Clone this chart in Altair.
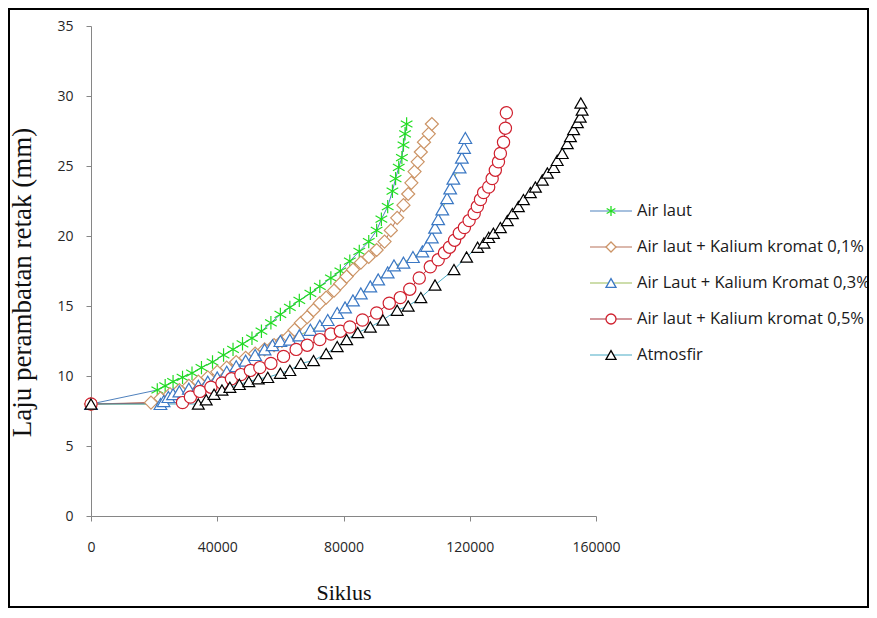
import altair as alt
import pandas as pd

# ---------------- data ----------------
SERIES = [
    "Air laut",
    "Air laut + Kalium kromat 0,1%",
    "Air Laut + Kalium Kromat 0,3%",
    "Air laut + Kalium kromat 0,5%",
    "Atmosfir",
]

air_laut_x = [0, 21000, 23500, 26000, 29000, 32000, 35000, 38500, 42000, 45000,
              48000, 51000, 54000, 57000, 60000, 63000, 66000, 69500, 72500, 76000,
              79000, 82000, 85000, 88000, 90500, 92000, 94000, 95500, 96500, 97500,
              98500, 99000, 99500, 100000]
air_laut_y = [8, 9.0, 9.3, 9.6, 9.9, 10.2, 10.6, 11.0, 11.5, 11.9,
              12.3, 12.7, 13.2, 13.8, 14.4, 14.9, 15.4, 15.9, 16.4, 17.0,
              17.5, 18.2, 18.9, 19.6, 20.4, 21.2, 22.1, 23.2, 24.1, 24.9,
              25.6, 26.5, 27.3, 28.0]

kk01_x = [0, 19000, 22000, 25000, 28000, 31000, 34000, 37000, 40000, 43000,
          46000, 49000, 52000, 55000, 58000, 60500, 62500, 64500, 66500, 68500,
          70500, 72500, 74500, 77000, 79000, 81000, 83000, 85500, 88000, 90500,
          93000, 95000, 97000, 99000, 100500, 101500, 102500, 103500, 104500, 105500,
          107000, 108000]
kk01_y = [8, 8.1, 8.4, 8.7, 9.0, 9.3, 9.6, 9.9, 10.3, 10.6,
          11.0, 11.3, 11.6, 11.9, 12.2, 12.5, 12.8, 13.3, 13.8, 14.2,
          14.7, 15.2, 15.6, 16.1, 16.6, 17.1, 17.6, 18.1, 18.5, 19.0,
          19.6, 20.4, 21.3, 22.2, 23.0, 23.8, 24.6, 25.3, 26.0, 26.7,
          27.3, 28.0]

kk03_x = [0, 22000, 23000, 24500, 26000, 28000, 31000, 34000, 37000, 40000,
          43000, 46000, 49000, 52000, 55000, 57500, 60000, 63000, 66000, 69500,
          72500, 75000, 78000, 80500, 83000, 85500, 88500, 91000, 94000, 96000,
          99000, 102000, 105000, 106500, 108000, 109000, 110000, 111300, 112800, 113800,
          114800, 116800, 117500, 118200, 118600]
kk03_y = [8, 8.0, 8.2, 8.5, 8.7, 8.9, 9.1, 9.3, 9.6, 9.9,
          10.3, 10.7, 11.1, 11.5, 11.9, 12.2, 12.5, 12.6, 12.9, 13.3,
          13.6, 14.0, 14.5, 14.9, 15.4, 15.9, 16.4, 16.9, 17.4, 17.9,
          18.1, 18.5, 18.9, 19.3, 19.9, 20.6, 21.2, 21.9, 22.7, 23.4,
          24.1, 24.9, 25.6, 26.3, 27.0]

kk05_x = [0, 29000, 31500, 34500, 38000, 41500, 44500, 47500, 50500, 53500,
          57000, 61000, 65000, 68500, 72500, 76000, 79000, 82000, 86000, 90500,
          94500, 98000, 101000, 104000, 107500, 110000, 112000, 113600, 115200, 116700,
          118300, 119800, 121400, 122400, 123400, 124400, 126000, 127100, 128100, 129100,
          129700, 130700, 131300, 131600]
kk05_y = [8, 8.1, 8.5, 8.9, 9.2, 9.5, 9.8, 10.1, 10.4, 10.6,
          10.9, 11.4, 11.9, 12.2, 12.6, 13.0, 13.2, 13.5, 14.0, 14.5,
          15.2, 15.6, 16.2, 17.0, 17.8, 18.3, 18.8, 19.2, 19.7, 20.2,
          20.6, 21.1, 21.6, 22.1, 22.6, 23.1, 23.5, 24.1, 24.7, 25.3,
          25.9, 26.7, 27.7, 28.8]

atm_x = [0, 34000, 36500, 39000, 41500, 44000, 47000, 50000, 53000, 56000,
         60000, 63000, 66500, 70500, 74500, 78000, 81000, 84500, 88500, 92500,
         97000, 100500, 104500, 109000, 115000, 119000, 122500, 124500, 126000, 127500,
         129700, 131900, 133500, 135400, 137000, 139200, 140800, 143000, 144600, 146600,
         147700, 149300, 150900, 151900, 152900, 154100, 155000, 155600, 155200]
atm_y = [8, 8.0, 8.3, 8.7, 9.0, 9.2, 9.4, 9.6, 9.8, 9.9,
         10.2, 10.4, 10.9, 11.1, 11.6, 12.1, 12.6, 13.1, 13.5, 14.0,
         14.7, 15.0, 15.6, 16.5, 17.6, 18.5, 19.2, 19.5, 19.9, 20.2,
         20.6, 21.1, 21.6, 22.1, 22.6, 23.1, 23.5, 24.0, 24.5, 24.9,
         25.4, 25.9, 26.6, 27.1, 27.6, 28.1, 28.5, 29.0, 29.5]

X_TICKS = [0, 40000, 80000, 120000, 160000]
Y_TICKS = [0, 5, 10, 15, 20, 25, 30, 35]

# ---------------- styling ----------------
LINE_COLORS = ["#4F81BD", "#B7735A", "#9BBB59", "#A5303A", "#4BACC6"]
MARKER_COLORS = ["#22DD22", "#CC9466", "#3B78C4", "#D0202E", "#000000"]
ASTERISK = "M0,-1L0,1M-0.87,-0.5L0.87,0.5M-0.87,0.5L0.87,-0.5"
SHAPES = [ASTERISK, "diamond", "triangle-up", "circle", "triangle-up"]
SIZES = [180, 140, 170, 220, 200]

rows = []
for name, xs, ys in zip(
    SERIES,
    [air_laut_x, kk01_x, kk03_x, kk05_x, atm_x],
    [air_laut_y, kk01_y, kk03_y, kk05_y, atm_y],
):
    for i, (a, b) in enumerate(zip(xs, ys)):
        rows.append({"x": a, "y": b, "series": name, "marker": name, "idx": i})
df = pd.DataFrame(rows)
legend_df = pd.DataFrame({"series": SERIES, "marker": SERIES})

color_enc = alt.Color("series:N", scale=alt.Scale(domain=SERIES, range=LINE_COLORS), legend=None)
stroke_enc = alt.Stroke("marker:N", scale=alt.Scale(domain=SERIES, range=MARKER_COLORS), legend=None)
shape_enc = alt.Shape("marker:N", scale=alt.Scale(domain=SERIES, range=SHAPES), legend=None)

x_enc = alt.X(
    "x:Q",
    scale=alt.Scale(domain=[0, 160000], nice=False),
    axis=alt.Axis(
        values=X_TICKS, format="d", title="Siklus",
        titleFont="Liberation Serif", titleFontSize=22, titleFontWeight="normal",
        titleColor="#111111", titleY=76, titleBaseline="middle",
        labelFont="Open Sans", labelFontSize=14, labelColor="#262626",
        labelPadding=19, tickSize=5, domainColor="#868686", tickColor="#868686",
        labelFlush=False, grid=False,
    ),
)
y_enc = alt.Y(
    "y:Q",
    scale=alt.Scale(domain=[0, 35], nice=False),
    axis=alt.Axis(
        values=Y_TICKS, title="Laju perambatan retak (mm)",
        titleFont="Liberation Serif", titleFontSize=27, titleFontWeight="normal",
        titleColor="#111111", titleX=-69, titleY=256, titleAngle=270,
        titleBaseline="middle", titleAlign="center",
        labelFont="Open Sans", labelFontSize=14, labelColor="#262626",
        labelPadding=13, tickSize=5, domainColor="#868686", tickColor="#868686",
        grid=False,
    ),
)

lines = alt.Chart(df).mark_line(strokeWidth=1).encode(
    x=x_enc, y=y_enc, color=color_enc, order="idx:Q",
)

points = alt.Chart(df).mark_point(
    filled=False, fill="white", opacity=1, strokeWidth=1.2
).encode(
    x=x_enc,
    y=y_enc,
    stroke=stroke_enc,
    shape=shape_enc,
    size=alt.Size("marker:N", scale=alt.Scale(domain=SERIES, range=SIZES), legend=None),
)

main = alt.layer(lines, points)

# ---------------- legend (drawn from the series list) ----------------
leg_y = alt.Y("series:N", scale=alt.Scale(type="point", domain=SERIES, range=[185, 329], padding=0),
              axis=None)
leg_rules = alt.Chart(legend_df).mark_rule(strokeWidth=1.2).encode(
    x=alt.value(499), x2=alt.value(541), y=leg_y, color=color_enc,
)
leg_points = alt.Chart(legend_df).mark_point(
    filled=False, fill="white", opacity=1, strokeWidth=1.3, size=100
).encode(
    x=alt.value(520), y=leg_y, stroke=stroke_enc, shape=shape_enc,
)
leg_text = alt.Chart(legend_df).mark_text(
    align="left", baseline="middle", font="Open Sans", fontSize=16.5, color="#1a1a1a"
).encode(
    x=alt.value(546), y=leg_y, text="series:N",
)
legend = alt.layer(leg_rules, leg_points, leg_text)

frame = alt.Chart(pd.DataFrame({"k": [0]})).mark_rect(
    fill="transparent", stroke="black", strokeWidth=2
).encode(
    x=alt.value(-82), x2=alt.value(777), y=alt.value(-17), y2=alt.value(581)
)

chart = (
    alt.layer(main, legend, frame)
    .resolve_scale(y="independent")
    .properties(
        width=505, height=490,
        padding={"left": 83, "top": 18, "right": 273, "bottom": 92},
        autosize=alt.AutoSizeParams(type="none"),
        background="white",
    )
    .configure_view(stroke=None)
)

chart.save("out.html", embed_options={"renderer": "svg", "actions": False})
